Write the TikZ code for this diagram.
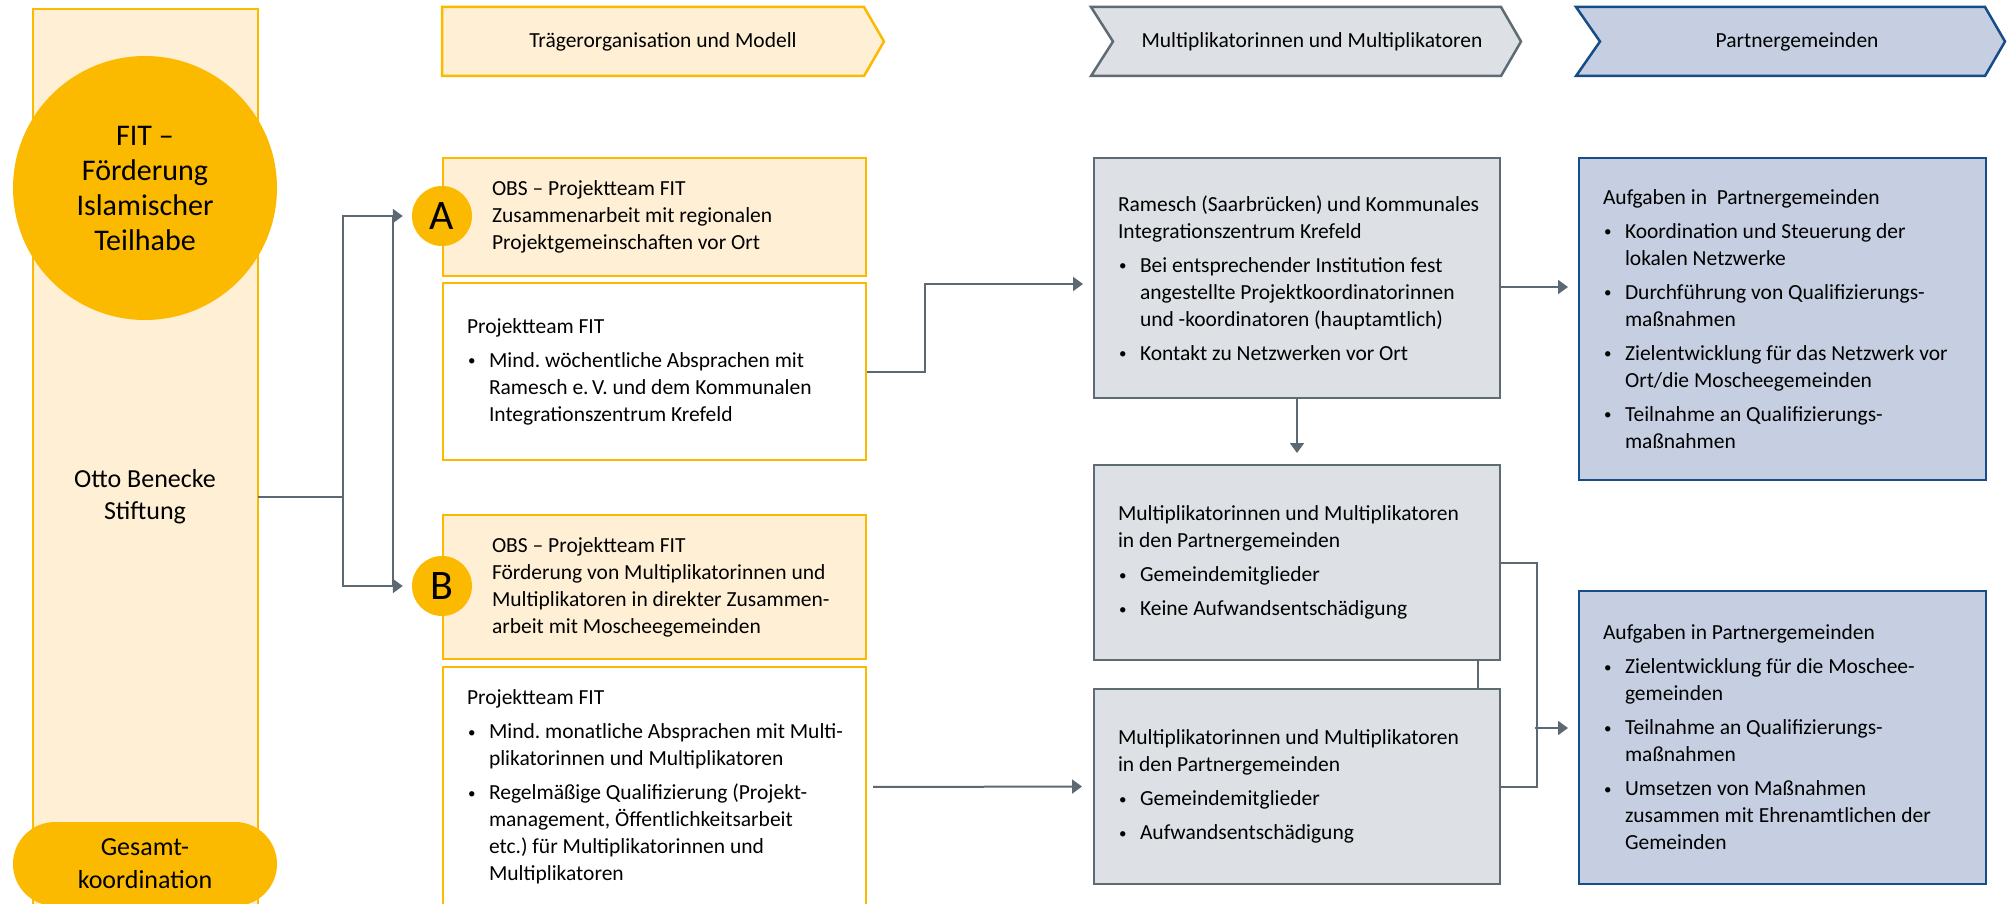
\documentclass[tikz,border=0pt]{standalone}
\usepackage{fontspec}
\setmainfont{Carlito}
\usetikzlibrary{arrows.meta}
\definecolor{obsgelb}{RGB}{251,186,0}
\definecolor{obscreme}{RGB}{255,240,213}
\definecolor{multigrau}{RGB}{221,225,229}
\definecolor{grauline}{RGB}{95,107,115}
\definecolor{partnerblau}{RGB}{197,207,225}
\definecolor{blauline}{RGB}{22,76,135}
\definecolor{pfeilgrau}{RGB}{92,104,114}
% Textblock in einem Kasten
\newcommand{\feld}[2]{\begin{minipage}{#1}\raggedright\frenchspacing\rightskip=0pt plus 1fil minus 24pt #2\end{minipage}}
\newcommand{\punkt}{\par\vspace{7pt}\hangindent=22pt\hangafter=1\noindent\makebox[22pt][l]{\hspace{1pt}\raisebox{1.5pt}{\fontsize{15}{15}\selectfont\textbullet}}}

\begin{document}
\begin{tikzpicture}[x=1pt,y=-1pt,line join=miter]
	\tikzstyle{box}=[draw,line width=2pt,anchor=north west,inner xsep=24pt,inner ysep=0pt,font=\fontsize{21.5}{27}\selectfont];
	\tikzstyle{gelb}=[box,draw=obsgelb,fill=obscreme];
	\tikzstyle{weiss}=[box,draw=obsgelb,fill=white];
	\tikzstyle{grau}=[box,draw=grauline,fill=multigrau];
	\tikzstyle{blau}=[box,draw=blauline,fill=partnerblau];
	\tikzstyle{marke}=[circle,fill=obsgelb,minimum size=60pt,inner sep=0pt,font=\fontsize{42}{42}\selectfont];
	\tikzstyle{kopf}=[font=\fontsize{21.5}{27}\selectfont];
	\tikzstyle{verb}=[pfeilgrau,line width=2pt,line cap=rect];
	\tikzstyle{pfeil}=[verb,line cap=butt,-{Triangle[length=10pt,width=14pt]}];
	\useasboundingbox (0,0) rectangle (2009,904);
	\clip (0,0) rectangle (2009,904);
	% linke Spalte
	\node[draw=obsgelb,fill=obscreme,line width=2pt,anchor=north west,minimum width=225pt,minimum height=910pt] (obs) at (32,8) {};
	\node[circle,fill=obsgelb,minimum size=264pt,align=center,font=\fontsize{30}{35}\selectfont] (fit) at (145,188) {FIT –\\Förderung\\Islamischer\\Teilhabe};
	\node[align=center,font=\fontsize{26}{32}\selectfont] (otto) at (145,497) {Otto Benecke\\Stiftung};
	\node[rectangle,rounded corners=42pt,fill=obsgelb,minimum width=264pt,minimum height=84pt,align=center,font=\fontsize{26}{33}\selectfont] (gesamt) at (145,864) {Gesamt-\\koordination};
	% Kopfzeile
	\draw[draw=obsgelb,fill=obscreme,line width=2.5pt] (442,7) -- (864,7) -- (884,41.5) -- (864,76) -- (442,76) -- cycle;
	\node[kopf] (traeger) at (663,42) {Trägerorganisation und Modell};
	\draw[draw=grauline,fill=multigrau,line width=2.5pt] (1091,7) -- (1501,7) -- (1521,41.5) -- (1501,76) -- (1091,76) -- (1113,41.5) -- cycle;
	\node[kopf] (multi) at (1312,42) {Multiplikatorinnen und Multiplikatoren};
	\draw[draw=blauline,fill=partnerblau,line width=2.5pt] (1576,7) -- (1985,7) -- (2005,41.5) -- (1985,76) -- (1576,76) -- (1600,41.5) -- cycle;
	\node[kopf] (partner) at (1797,42) {Partnergemeinden};
	% Traegerorganisation
	\node[gelb,minimum height=118pt] (obsA) at (442,157) {\feld{375pt}{\leftskip=25pt OBS – Projektteam FIT\newline Zusammenarbeit mit regionalen\newline Projektgemeinschaften vor Ort}};
	\node[marke] (kreisA) at (442,216) {A};
	\node[weiss,minimum height=177pt] (teamA) at (442,282) {\feld{375pt}{Projektteam FIT\punkt Mind. wöchentliche Absprachen mit\newline Ramesch e.\,V. und dem Kommunalen\newline Integrationszentrum Krefeld}};
	\node[gelb,minimum height=144pt] (obsB) at (442,514) {\feld{375pt}{\leftskip=25pt OBS – Projektteam FIT\newline Förderung von Multiplikatorinnen und\newline Multiplikatoren in direkter Zusammen-\newline arbeit mit Moscheegemeinden}};
	\node[marke] (kreisB) at (442,586) {B};
	\node[weiss,minimum height=240pt] (teamB) at (442,666) {\feld{375pt}{Projektteam FIT\punkt Mind. monatliche Absprachen mit Multi-\newline plikatorinnen und Multiplikatoren\punkt Regelmäßige Qualifizierung (Projekt-\newline management, Öffentlichkeitsarbeit\newline etc.) für Multiplikatorinnen und\newline Multiplikatoren}};
	% Multiplikatoren
	\node[grau,minimum height=240pt] (ramesch) at (1093,157) {\feld{358pt}{Ramesch (Saarbrücken) und Kommunales\newline Integrationszentrum Krefeld\punkt Bei entsprechender Institution fest\newline angestellte Projektkoordinatorinnen\newline und -koordinatoren (hauptamtlich)\punkt Kontakt zu Netzwerken vor Ort}};
	\node[grau,minimum height=195pt] (multiA) at (1093,464) {\feld{358pt}{Multiplikatorinnen und Multiplikatoren\newline in den Partnergemeinden\punkt Gemeindemitglieder\punkt Keine Aufwandsentschädigung}};
	\node[grau,minimum height=195pt] (multiB) at (1093,688) {\feld{358pt}{Multiplikatorinnen und Multiplikatoren\newline in den Partnergemeinden\punkt Gemeindemitglieder\punkt Aufwandsentschädigung}};
	% Partnergemeinden
	\node[blau,minimum height=322pt] (aufgA) at (1578,157) {\feld{359pt}{Aufgaben in\ \ Partnergemeinden\punkt Koordination und Steuerung der\newline lokalen Netzwerke\punkt Durchführung von Qualifizierungs-\newline maßnahmen\punkt Zielentwicklung für das Netzwerk vor\newline Ort/die Moscheegemeinden\punkt Teilnahme an Qualifizierungs-\newline maßnahmen}};
	\node[blau,minimum height=293pt] (aufgB) at (1578,590) {\feld{359pt}{Aufgaben in Partnergemeinden\punkt Zielentwicklung für die Moschee-\newline gemeinden\punkt Teilnahme an Qualifizierungs-\newline maßnahmen\punkt Umsetzen von Maßnahmen\newline zusammen mit Ehrenamtlichen der\newline Gemeinden}};
	% Verbindungen
	\coordinate (gabel) at (343,497);
	\draw[verb] (otto -| obs.east) -- (gabel);
	\draw[pfeil,shorten >=9pt] (gabel) |- (kreisA.west);
	\draw[pfeil,shorten >=9pt] (gabel) |- (kreisB.west);
	\draw[verb] ([xshift=-19pt]kreisA.west) -- ([xshift=-19pt]kreisB.west);
	\draw[pfeil,shorten >=10pt] (teamA.east) -- ++(58,0) |- ([yshift=-6pt]ramesch.west);
	\coordinate (rechts) at ([yshift=-9pt]ramesch.east);
	\draw[pfeil,shorten >=10pt] (rechts) -- (rechts -| aufgA.west);
	\draw[pfeil,shorten >=11pt] (ramesch) -- (multiA);
	\draw[verb] ([xshift=-23pt]multiA.south east) -- ([xshift=-23pt]multiB.north east);
	\draw[verb] (multiA.east) -- ++(36,0) |- (multiB.east);
	\coordinate (klammer) at (1535,728);
	\draw[pfeil,shorten >=10pt] (klammer) -- (klammer -| aufgB.west);
	\draw[pfeil,shorten <=6pt,shorten >=11pt] (teamB.east) -- (multiB.west);
\end{tikzpicture}
\end{document}
